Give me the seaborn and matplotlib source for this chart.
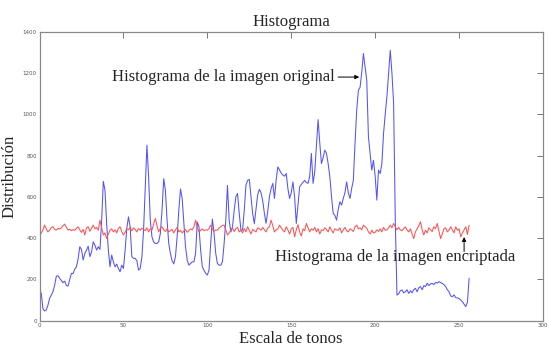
import matplotlib
matplotlib.use("Agg")
import matplotlib.pyplot as plt
import numpy as np
import pandas as pd
import seaborn as sns

# ---- data ----
tones = list(range(1, 257))

original = [
    135, 60, 47, 52, 75, 108, 124, 140, 172, 215,
    218, 205, 195, 184, 192, 170, 168, 200, 229, 228,
    250, 261, 300, 358, 345, 294, 326, 342, 361, 310,
    334, 382, 366, 342, 358, 345, 480, 675, 632, 471,
    342, 261, 318, 285, 261, 274, 253, 237, 269, 253,
    342, 447, 503, 455, 310, 302, 302, 290, 245, 253,
    310, 439, 648, 850, 697, 487, 406, 382, 374, 374,
    382, 423, 535, 688, 632, 487, 374, 326, 290, 275,
    310, 406, 535, 638, 592, 471, 358, 294, 269, 277,
    285, 285, 326, 478, 455, 342, 261, 245, 229, 221,
    245, 374, 492, 423, 326, 277, 269, 269, 285, 374,
    487, 655, 487, 430, 455, 535, 600, 616, 520, 440,
    439, 535, 656, 680, 684, 600, 520, 470, 540, 610,
    636, 620, 580, 520, 472, 530, 600, 640, 665, 592,
    680, 745, 730, 715, 705, 700, 713, 640, 592, 620,
    672, 600, 471, 560, 648, 660, 670, 680, 670, 665,
    700, 810, 665, 720, 850, 974, 860, 761, 790, 826,
    810, 760, 697, 600, 520, 510, 487, 540, 576, 560,
    592, 620, 672, 620, 592, 640, 680, 858, 1019, 1116,
    1130, 1200, 1294, 1230, 1164, 890, 810, 729, 777, 700,
    584, 729, 713, 760, 906, 1000, 1084, 1200, 1310, 1200,
    1053, 487, 124, 130, 145, 149, 135, 140, 150, 132,
    145, 135, 150, 157, 140, 160, 165, 150, 170, 165,
    181, 170, 178, 181, 175, 185, 182, 189, 185, 180,
    175, 165, 150, 140, 120, 116, 125, 112, 110, 108,
    100, 92, 80, 68, 90, 205,
]

encrypted = [
    423, 440, 463, 445, 430, 438, 450, 455, 442, 439,
    447, 444, 450, 460, 468, 452, 439, 443, 436, 441,
    438, 447, 455, 440, 428, 442, 415, 450, 455, 433,
    448, 463, 445, 452, 438, 487, 450, 415, 425, 398,
    420, 438, 445, 430, 440, 425, 448, 455, 432, 415,
    428, 445, 440, 452, 435, 450, 442, 430, 446, 438,
    448, 441, 436, 450, 430, 445, 438, 470, 495, 460,
    430, 448, 455, 440, 432, 445, 430, 436, 442, 425,
    440, 452, 430, 438, 425, 434, 442, 428, 436, 445,
    440, 455, 487, 450, 430, 438, 445, 436, 440, 438,
    446, 463, 445, 432, 440, 438, 450, 455, 462, 463,
    440, 415, 425, 440, 448, 432, 445, 452, 430, 438,
    425, 446, 430, 455, 438, 420, 442, 436, 430, 450,
    445, 438, 452, 440, 430, 448, 455, 487, 460, 430,
    440, 445, 463, 450, 438, 430, 455, 440, 420, 445,
    452, 406, 440, 465, 430, 410, 445, 436, 471, 450,
    430, 445, 438, 452, 430, 446, 420, 440, 436, 450,
    442, 430, 455, 438, 425, 445, 440, 438, 450, 425,
    440, 452, 436, 430, 445, 440, 432, 455, 463, 445,
    450, 440, 463, 455, 448, 430, 420, 438, 425, 428,
    440, 432, 445, 430, 452, 438, 440, 450, 463, 450,
    471, 455, 440, 452, 440, 436, 446, 455, 440, 430,
    445, 420, 398, 430, 445, 460, 479, 440, 415, 438,
    425, 450, 440, 432, 455, 446, 471, 435, 398, 420,
    445, 450, 430, 438, 455, 440, 425, 455, 438, 445,
    406, 425, 440, 455, 418, 463,
]

x_ticks = [0, 50, 100, 150, 200, 250, 300]
y_ticks = [0, 200, 400, 600, 800, 1000, 1200, 1400]

title = "Histograma"
x_label = "Escala de tonos"
y_label = "Distribución"
label_original = "Histograma de la imagen original"
label_encrypted = "Histograma de la imagen encriptada"

# ---- figure ----
sns.set_style("white")
plt.rcParams["font.family"] = ["Liberation Serif", "DejaVu Serif"]

fig = plt.figure(figsize=(5.49, 3.47), dpi=100)
ax = fig.add_axes([0.072, 0.0758, 0.917, 0.833])

df = pd.DataFrame({"Tono": tones, "Original": original, "Encriptada": encrypted})
sns.lineplot(data=df, x="Tono", y="Original", color="#5252ff", lw=0.75, ax=ax)
sns.lineplot(data=df, x="Tono", y="Encriptada", color="#ff5252", lw=0.75, ax=ax)

ax.set_xlim(0, 300)
ax.set_ylim(0, 1400)
ax.set_xticks(x_ticks)
ax.set_yticks(y_ticks)
ax.set_xticklabels([str(v) for v in x_ticks])
ax.set_yticklabels([str(v) for v in y_ticks])
ax.tick_params(direction="in", length=4, width=0.7, top=True, right=True,
               labelsize=4, labelcolor="#555555", color="#777777", pad=2)
for lbl in ax.get_xticklabels() + ax.get_yticklabels():
    lbl.set_family("DejaVu Sans")
for sp in ax.spines.values():
    sp.set_color("#888888")
    sp.set_linewidth(0.9)

ax.set_title(title, fontsize=12, pad=4)
ax.set_xlabel(x_label, fontsize=12, labelpad=2)
ax.set_ylabel(y_label, fontsize=12, labelpad=4)

ax.annotate(label_original, xy=(190.5, 1180), xytext=(176, 1180),
            ha="right", va="center", fontsize=12,
            arrowprops=dict(arrowstyle="-|>", color="black", lw=0.7,
                            mutation_scale=6, shrinkA=0, shrinkB=0))
ax.annotate("", xy=(253, 405), xytext=(253, 335),
            arrowprops=dict(arrowstyle="-|>", color="black", lw=0.7,
                            mutation_scale=6, shrinkA=0, shrinkB=0))
ax.text(212, 310, label_encrypted, ha="center", va="center", fontsize=12)

fig.savefig("out.png", dpi=100)
